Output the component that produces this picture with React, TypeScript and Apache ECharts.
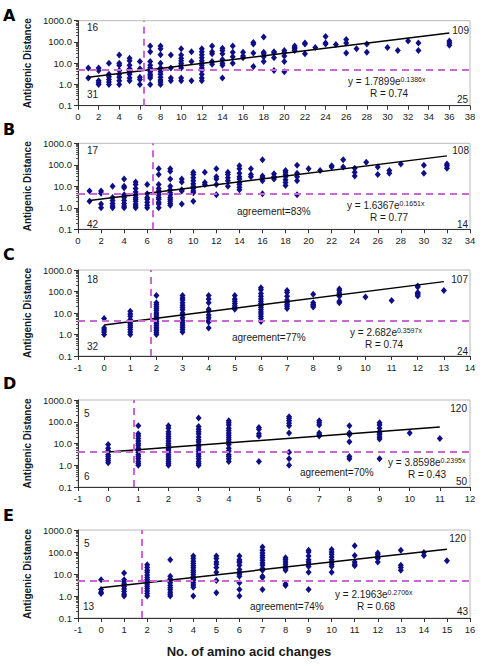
import React, { useEffect, useRef } from "react";
import * as echarts from "echarts";

// ---------------- DATA ----------------
const panelLetters = ["A", "B", "C", "D", "E"];
const xMins = [0, 0, -1, -1, -1];
const xMaxs = [38, 34, 14, 12, 16];
const xIntervals = [2, 2, 1, 1, 1];
const yTickLabels = ["0.1", "1.0", "10.0", "100.0", "1000.0"];

const aXs = [1, 2, 3, 4, 5, 6, 7, 8, 9, 10, 11, 12, 13, 14, 15, 16, 17, 18, 19, 20, 21, 22, 23, 24, 25, 26, 27, 28, 30, 31, 32, 33, 36];
const aYs = [
  [6, 2],
  [6, 4.5, 1.5, 1.2, 1.0],
  [10, 3, 2.3, 1.7, 1.3, 1.0],
  [24, 10, 8, 4.5, 3, 2.2, 1.5, 1.0],
  [17, 13, 8, 5.5, 4, 3, 2, 1.5],
  [12, 5.5, 2.2, 1.7, 1.0],
  [65, 35, 12, 8, 6, 5, 4, 3, 2.5, 2, 1.0],
  [65, 48, 25, 10, 6, 5, 4, 3, 2.2, 1.6, 1.3, 1.0],
  [24, 6, 2, 1.5],
  [48, 24, 17, 13, 10, 8, 6, 2, 1.5],
  [35, 12, 1.5],
  [48, 35, 25, 18, 13, 10, 8, 6, 4.5, 3, 2, 1.5],
  [65, 35, 28, 12, 9],
  [50, 40, 28, 15, 10, 8, 2],
  [65, 33, 20, 10],
  [33, 22, 18],
  [95, 80, 30, 7],
  [170, 33, 28, 20, 12],
  [35, 30, 18, 4.5],
  [40, 32, 22, 12, 4],
  [65, 55, 48, 40],
  [90, 80, 28],
  [55],
  [180, 90, 80],
  [75],
  [130, 90, 30],
  [48],
  [80, 33],
  [55],
  [40],
  [110],
  [90, 40],
  [110, 90, 70],
];

const bXs = [1, 2, 3, 4, 5, 6, 7, 8, 9, 10, 11, 12, 13, 14, 15, 16, 17, 18, 19, 20, 21, 22, 23, 24, 25, 26, 27, 28, 30, 32];
const bYs = [
  [6, 2],
  [6, 4.8, 1.5, 1.0],
  [10, 3, 2.2, 1.6, 1.2, 1.0],
  [22, 10, 8.5, 4, 3, 2.2, 1.6, 1.2, 1.0],
  [16, 12, 8, 5.5, 4, 3, 2.5, 2, 1.5, 1.2, 1.0],
  [12, 4.5, 3, 2.5, 1.8, 1.3, 1.0],
  [65, 35, 12, 8, 6, 5, 4, 3, 2.5, 1.8, 1.5, 1.0],
  [65, 50, 22, 10, 7, 5, 4, 3, 2.5, 2, 1.6, 1.3],
  [22, 16, 7, 6, 1.5],
  [45, 35, 25, 18, 13, 10, 8, 6, 5, 2],
  [45, 15, 12],
  [65, 28, 22, 12, 4],
  [45, 35, 25, 18, 10],
  [90, 65, 40, 28, 22, 15, 12, 9, 7],
  [65, 35, 28],
  [170, 30, 25, 18, 4.5],
  [38, 28, 22],
  [55, 45, 35, 28, 20, 15, 11],
  [95, 40, 28, 18, 4],
  [65],
  [55],
  [90, 80],
  [170, 80],
  [70, 45, 30],
  [130],
  [80, 35],
  [55, 40],
  [110],
  [95, 40],
  [110, 90, 70],
];

const cXs = [0, 1, 2, 3, 4, 5, 6, 7, 8, 9, 10, 11, 12, 13];
const cYs = [
  [5.5, 2, 1.6, 1.3, 1.0],
  [12, 9, 7, 5, 4, 3.3, 2.7, 2.2, 1.7, 1.3, 1.0],
  [65, 30, 25, 20, 16, 13, 10, 8, 6.5, 5, 4, 3.3, 2.7, 2.2, 1.8, 1.5, 1.2, 1.0],
  [65, 50, 40, 30, 23, 18, 14, 10, 8, 6, 4.5, 3.5, 2.8, 2.2, 1.7, 1.3],
  [65, 45, 30, 15, 12, 8, 6, 4.5, 3.8, 2],
  [65, 45, 35, 28, 22, 18, 15],
  [150, 120, 80, 60, 45, 35, 28, 22, 18, 14, 11, 9, 7, 5.5, 4],
  [110, 90, 60, 40, 30, 24, 20, 16],
  [75, 30, 25, 22, 19],
  [130, 110, 85, 70, 60, 35, 30],
  [55],
  [38],
  [180, 160, 90, 80, 70, 62],
  [110],
];

const dXs = [0, 1, 2, 3, 4, 5, 6, 7, 8, 9, 10, 11];
const dYs = [
  [9, 6, 4.5, 3, 2.5, 2, 1.6, 1.3],
  [65, 28, 22, 17, 13, 10, 8, 6, 5, 4, 3, 2.5, 2, 1.5, 1.2, 1.0],
  [65, 50, 35, 27, 21, 17, 13, 10, 8, 6, 5, 4, 3, 2.4, 1.9, 1.5, 1.2, 1.0],
  [150, 60, 45, 35, 27, 20, 15, 12, 9, 7, 5.5, 4.3, 3.3, 2.6, 2, 1.5, 1.2, 1.0],
  [110, 90, 70, 50, 40, 30, 24, 19, 15, 12, 9, 6, 4.5, 3, 2.5, 2, 1.5],
  [55, 45, 28, 22, 1.5],
  [170, 140, 110, 85, 65, 30, 4, 2, 1.0],
  [110, 90, 70, 30, 25, 22],
  [65, 30, 25, 12, 2.5, 2],
  [90, 70, 50, 35, 30, 25, 20, 16, 2],
  [30],
  [17],
];

const eXs = [0, 1, 2, 3, 4, 5, 6, 7, 8, 9, 10, 11, 12, 13, 14, 15];
const eYs = [
  [5.5, 2, 1.5, 1.3],
  [11, 5.5, 4.5, 3.5, 2.7, 2.1, 1.6, 1.2, 1.0],
  [26, 20, 15, 12, 9, 7, 5.5, 4.5, 3.5, 2.8, 2.2, 1.7, 1.3, 1.0],
  [45, 8, 6, 5, 4, 3, 2.4, 1.9, 1.5, 1.2, 1.0],
  [65, 50, 38, 30, 24, 19, 15, 12, 9.5, 7.5, 6, 5, 4, 3.2, 2.5, 1.0],
  [65, 50, 35, 28, 20, 12, 5, 1.4],
  [65, 45, 38, 33, 25, 16, 12, 10, 8, 4, 2, 1.0],
  [170, 120, 90, 70, 55, 42, 32, 25, 18, 15, 8, 7, 2],
  [55, 45, 35, 28, 22, 18, 15, 3.5, 3],
  [120, 100, 65, 45, 35, 28, 22, 12, 2],
  [130, 100, 80, 60, 45, 35, 28, 22, 12],
  [190, 70, 35, 28, 24],
  [90, 75, 60, 50, 35],
  [120, 25, 20, 15],
  [95, 70],
  [40],
];

const trendA = [[1, 2.2], [36, 265]];
const trendB = [[1, 2.2], [32, 260]];
const trendC = [[0, 2.8], [13, 288]];
const trendD = [[0, 4.1], [11, 58]];
const trendE = [[0, 2.4], [15, 135]];

const thresholds = [4.8, 4.6, 4.3, 4.2, 4.8];
const cutoffs = [6.4, 6.5, 1.78, 0.85, 1.75];

const countsTopLeft = ["16", "17", "18", "5", "5"];
const countsTopRight = ["109", "108", "107", "120", "120"];
const countsBottomLeft = ["31", "42", "32", "6", "13"];
const countsBottomRight = ["25", "14", "24", "50", "43"];
const eqCoef = ["1.7899", "1.6367", "2.682", "3.8598", "2.1963"];
const eqExp = ["0.1386x", "0.1651x", "0.3597x", "0.2395x", "0.2706x"];
const rValues = ["0.74", "0.77", "0.74", "0.43", "0.68"];
const agreements = ["", "83%", "77%", "70%", "74%"];

const xs = [aXs, bXs, cXs, dXs, eXs];
const ys = [aYs, bYs, cYs, dYs, eYs];
const trends = [trendA, trendB, trendC, trendD, trendE];

// ---------------- LAYOUT ----------------
const FONT = "'Liberation Sans', Arial, sans-serif";
const gridLeft = 78;
const gridWidth = 392;
const gridTops = [20.7, 143.3, 270, 400, 530];
const gridHeights = [85, 86, 86, 87, 88];
const letterY = [15, 129, 254, 383, 515];
const tlPos = [[87, 27], [87, 150], [87, 279], [84, 413], [84, 543]];
const trPos = [[469, 30], [469, 150], [468, 279], [467, 408], [466, 538]];
const blPos = [[87, 94], [87, 224], [87, 346], [84, 476], [83, 606]];
const brPos = [[468, 99], [468, 224], [468, 351], [467, 481], [468, 611]];
const eqPos = [[348, 81], [347, 205], [350, 332], [388, 462], [335, 594]];
const rPos = [[370, 93], [370, 217], [365, 344], [408, 474], [357, 606]];
const agPos = [[0, 0], [237, 211], [232, 337], [300, 472], [250, 606]];

const MARK = "#0e0e86";
const DASH = "#cc66d6";

export default function App() {
  const ref = useRef<HTMLDivElement>(null);
  useEffect(() => {
    const chart = echarts.init(ref.current!, null, { renderer: "svg" });
    const grid: any[] = [];
    const xAxis: any[] = [];
    const yAxis: any[] = [];
    const series: any[] = [];
    const graphic: any[] = [];
    const txt = (text: string, x: number, y: number, align: string, extra: any = {}) => ({
      type: "text",
      x,
      y,
      silent: true,
      style: {
        text,
        fontSize: 10,
        fontFamily: FONT,
        fill: "#1a1a1a",
        align,
        verticalAlign: "middle",
        ...extra,
      },
    });
    for (let i = 0; i < 5; i++) {
      grid.push({
        left: gridLeft,
        width: gridWidth,
        top: gridTops[i],
        height: gridHeights[i],
        show: true,
        borderColor: "#b8b8b8",
        borderWidth: 1,
        backgroundColor: "#fff",
      });
      xAxis.push({
        gridIndex: i,
        type: "value",
        min: xMins[i],
        max: xMaxs[i],
        interval: xIntervals[i],
        axisLine: { show: true, onZero: false, lineStyle: { color: "#333", width: 1 } },
        axisTick: { show: true, length: 4, lineStyle: { color: "#333" } },
        axisLabel: { fontSize: 9.5, fontFamily: FONT, color: "#222", margin: 6 },
        splitLine: { show: false },
      });
      yAxis.push({
        gridIndex: i,
        type: "log",
        logBase: 10,
        min: 0.1,
        max: 1000,
        axisLine: { show: true, onZero: false, lineStyle: { color: "#333", width: 1 } },
        axisTick: { show: true, length: 4, lineStyle: { color: "#333" } },
        minorTick: { show: true, splitNumber: 9, length: 2, lineStyle: { color: "#555" } },
        axisLabel: {
          fontSize: 9.5,
          fontFamily: FONT,
          color: "#222",
          margin: 6,
          formatter: (v: number) => {
            const k = Math.round(Math.log10(v)) + 1;
            return yTickLabels[k] ?? Number(v).toFixed(1);
          },
        },
        splitLine: { show: false },
        minorSplitLine: { show: false },
        name: "Antigenic Distance",
        nameLocation: "middle",
        nameGap: 42,
        nameTextStyle: { fontSize: 10, fontWeight: "bold", fontFamily: FONT, color: "#1a1a1a" },
      });
      const pts: number[][] = [];
      xs[i].forEach((x, k) => ys[i][k].forEach((y) => pts.push([x, y])));
      series.push({
        type: "scatter",
        xAxisIndex: i,
        yAxisIndex: i,
        data: pts,
        symbol: "diamond",
        symbolSize: [6, 7],
        itemStyle: { color: MARK, opacity: 1 },
        z: 2,
        markLine: {
          silent: true,
          symbol: "none",
          label: { show: false },
          lineStyle: { color: DASH, type: [7, 5], width: 2, opacity: 1 },
          data: [{ xAxis: cutoffs[i] }, { yAxis: thresholds[i] }],
        },
      });
      series.push({
        type: "line",
        xAxisIndex: i,
        yAxisIndex: i,
        data: trends[i],
        symbol: "none",
        lineStyle: { color: "#000", width: 1.5 },
        z: 4,
      });
      graphic.push(
        txt(panelLetters[i], 3, letterY[i], "left", {
          fontSize: 16,
          fontWeight: "bold",
          fontFamily: "'DejaVu Sans', sans-serif",
          fill: "#000",
        })
      );
      graphic.push(txt(countsTopLeft[i], tlPos[i][0], tlPos[i][1], "left"));
      graphic.push(txt(countsTopRight[i], trPos[i][0], trPos[i][1], "right"));
      graphic.push(txt(countsBottomLeft[i], blPos[i][0], blPos[i][1], "left"));
      graphic.push(txt(countsBottomRight[i], brPos[i][0], brPos[i][1], "right"));
      graphic.push({
        type: "text",
        x: eqPos[i][0],
        y: eqPos[i][1],
        silent: true,
        style: {
          text: `{a|y = ${eqCoef[i]}e}{s|${eqExp[i]}}`,
          fontFamily: FONT,
          fill: "#1a1a1a",
          align: "left",
          verticalAlign: "middle",
          rich: {
            a: { fontSize: 10, fontFamily: FONT, fill: "#1a1a1a", lineHeight: 10, verticalAlign: "bottom" },
            s: { fontSize: 7, fontFamily: FONT, fill: "#1a1a1a", lineHeight: 10, verticalAlign: "top", padding: [0, 0, 3, 0] },
          },
        },
      });
      graphic.push(txt(`R = ${rValues[i]}`, rPos[i][0], rPos[i][1], "left"));
      if (agreements[i]) {
        graphic.push(txt(`agreement=${agreements[i]}`, agPos[i][0], agPos[i][1], "left"));
      }
    }
    graphic.push(
      txt("No. of amino acid changes", 249, 651, "center", { fontSize: 13, fontWeight: "bold", fill: "#1a1a1a" })
    );
    chart.setOption({
      animation: false,
      backgroundColor: "#fff",
      grid,
      xAxis,
      yAxis,
      series,
      graphic,
    });
    return () => chart.dispose();
  }, []);
  return <div ref={ref} style={{ position: "absolute", left: 0, top: 0, width: 486, height: 666 }} />;
}
